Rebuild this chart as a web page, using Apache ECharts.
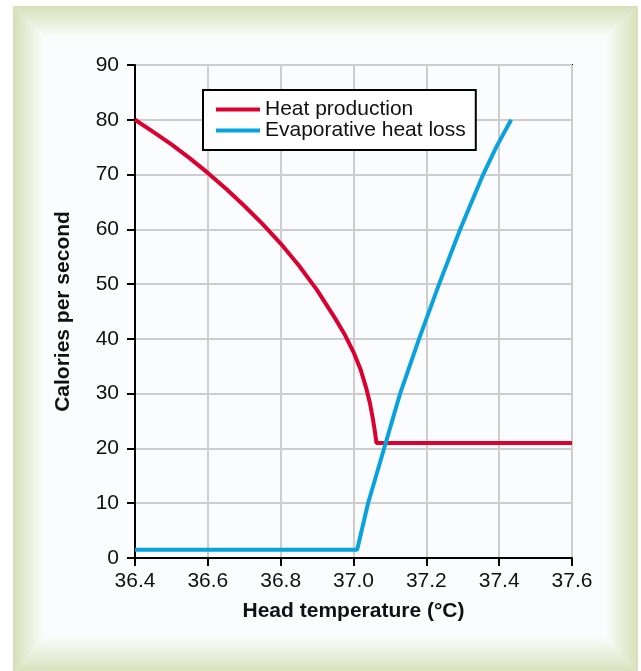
<!DOCTYPE html>
<html>
<head>
<meta charset="utf-8">
<script src="https://cdn.jsdelivr.net/npm/echarts@6/dist/echarts.min.js"></script>
<style>
html,body{margin:0;padding:0;background:#ffffff;}
#chart{width:641px;height:671px;}
</style>
</head>
<body>
<div id="chart"></div>
<script>
var xTicks = [36.4, 36.6, 36.8, 37.0, 37.2, 37.4, 37.6];
var yTicks = [0, 10, 20, 30, 40, 50, 60, 70, 80, 90];
var seriesNames = ['Heat production', 'Evaporative heat loss'];
var heatProduction = [
  [36.40, 80], [36.45, 77.8], [36.50, 75.5], [36.55, 73.0], [36.60, 70.3],
  [36.65, 67.4], [36.70, 64.3], [36.75, 61.0], [36.80, 57.4], [36.85, 53.4],
  [36.90, 48.9], [36.95, 43.7], [36.975, 40.9], [37.00, 37.6], [37.02, 34.3],
  [37.035, 31.0], [37.045, 28.3], [37.053, 25.5], [37.059, 23.0], [37.063, 21], [37.6, 21]
];
var evaporativeLoss = [
  [36.4, 1.5], [37.01, 1.5], [37.04, 10], [37.084, 20], [37.128, 30],
  [37.18, 40], [37.235, 50], [37.293, 60], [37.356, 70], [37.392, 75], [37.433, 80]
];
var xTitle = 'Head temperature (°C)';
var yTitle = 'Calories per second';

var font = '"Liberation Sans", Arial, Helvetica, sans-serif';
var RED = '#dc0030', BLUE = '#0aa2dc';
var chart = echarts.init(document.getElementById('chart'), null, {renderer: 'canvas'});

var G = '#d6dfb9', W = '#fbfcfa';
function grad(x, y, x2, y2) {
  return new echarts.graphic.LinearGradient(x, y, x2, y2, [{offset: 0, color: G}, {offset: 1, color: W}]);
}
var oL = 13, oT = 6, oR = 638, oB = 674, iL = 44, iT = 37, iR = 606, iB = 638;
var frame = [
  {type: 'rect', z: -10, silent: true, shape: {x: iL, y: iT, width: iR - iL, height: iB - iT}, style: {fill: '#fbfcfe'}},
  {type: 'polygon', z: -10, silent: true, shape: {points: [[oL, oT], [oR, oT], [iR, iT], [iL, iT]]}, style: {fill: grad(0, 0, 0, 1)}},
  {type: 'polygon', z: -10, silent: true, shape: {points: [[oL, oB], [oR, oB], [iR, iB], [iL, iB]]}, style: {fill: grad(0, 1, 0, 0)}},
  {type: 'polygon', z: -10, silent: true, shape: {points: [[oL, oT], [iL, iT], [iL, iB], [oL, oB]]}, style: {fill: grad(0, 0, 1, 0)}},
  {type: 'polygon', z: -10, silent: true, shape: {points: [[oR, oT], [iR, iT], [iR, iB], [oR, oB]]}, style: {fill: grad(1, 0, 0, 0)}}
];

var option = {
  animation: false,
  backgroundColor: '#ffffff',
  graphic: frame,
  grid: {left: 135, right: 69, top: 65, bottom: 113, show: true, borderColor: '#000', borderWidth: 2, backgroundColor: 'transparent'},
  legend: {
    left: 203, top: 90, orient: 'vertical',
    borderColor: '#000', borderWidth: 2, backgroundColor: '#ffffff',
    padding: [9, 10, 9, 13], itemGap: 0,
    itemWidth: 44, itemHeight: 4, icon: 'rect',
    textStyle: {fontFamily: font, fontSize: 21, color: '#111', lineHeight: 20},
    data: seriesNames
  },
  xAxis: {
    type: 'value', min: xTicks[0], max: xTicks[xTicks.length - 1], interval: 0.2,
    name: xTitle, nameLocation: 'middle', nameGap: 43,
    nameTextStyle: {fontFamily: font, fontSize: 21, fontWeight: 'bold', color: '#111'},
    axisLine: {show: true, onZero: false, lineStyle: {color: '#000', width: 2}},
    axisTick: {show: true, inside: false, length: 8, lineStyle: {color: '#000', width: 2}},
    axisLabel: {fontFamily: font, fontSize: 21, color: '#111', margin: 13,
      formatter: function (v) { return Number(v).toFixed(1); }},
    splitLine: {show: true, lineStyle: {color: '#cdcdcd', width: 2}}
  },
  yAxis: {
    type: 'value', min: yTicks[0], max: yTicks[yTicks.length - 1], interval: 10,
    name: yTitle, nameLocation: 'middle', nameGap: 61, nameRotate: 90,
    nameTextStyle: {fontFamily: font, fontSize: 21, fontWeight: 'bold', color: '#111'},
    axisLine: {show: true, lineStyle: {color: '#000', width: 2}},
    axisTick: {show: true, inside: false, length: 8, lineStyle: {color: '#000', width: 2}},
    axisLabel: {fontFamily: font, fontSize: 21, color: '#111', margin: 16},
    splitLine: {show: true, lineStyle: {color: '#cdcdcd', width: 2}}
  },
  series: [
    {name: seriesNames[0], type: 'line', data: heatProduction, showSymbol: false, symbol: 'none',
     lineStyle: {color: RED, width: 4}, itemStyle: {color: RED}, z: 3},
    {name: seriesNames[1], type: 'line', data: evaporativeLoss, showSymbol: false, symbol: 'none',
     lineStyle: {color: BLUE, width: 4}, itemStyle: {color: BLUE}, z: 4}
  ]
};
chart.setOption(option);
</script>
</body>
</html>
